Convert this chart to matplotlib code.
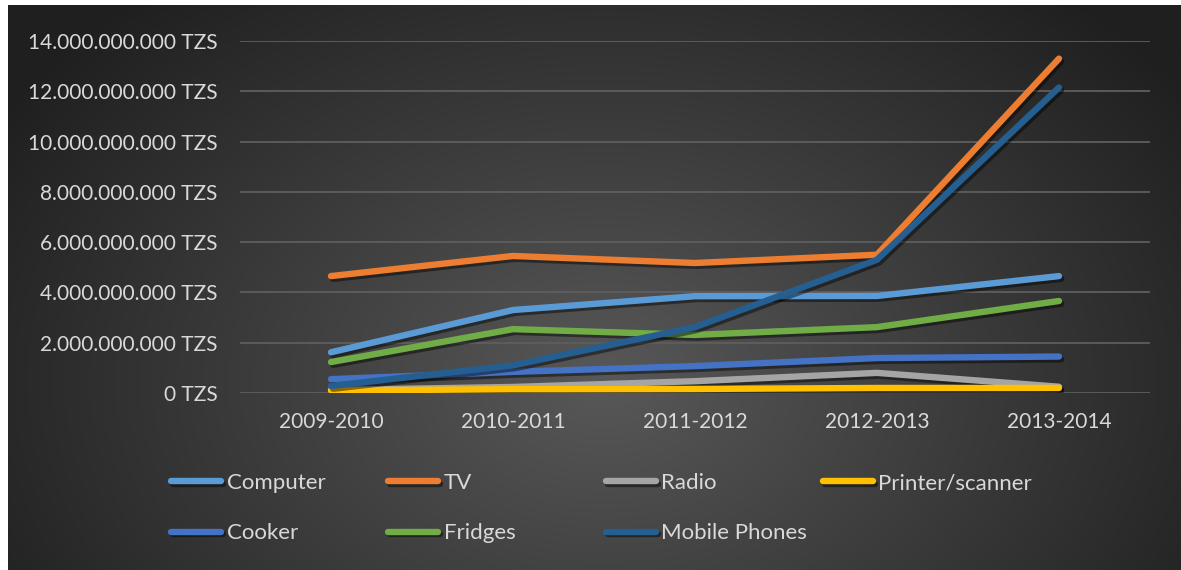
import numpy as np
import matplotlib
matplotlib.use("Agg")
import matplotlib.pyplot as plt
import matplotlib.patheffects as pe
from matplotlib.ticker import FuncFormatter

years = ["2009-2010", "2010-2011", "2011-2012", "2012-2013", "2013-2014"]

computer = [1.62e9, 3.30e9, 3.85e9, 3.86e9, 4.65e9]
tv = [4.65e9, 5.45e9, 5.17e9, 5.50e9, 13.30e9]
radio = [0.12e9, 0.24e9, 0.47e9, 0.80e9, 0.25e9]
printer = [0.10e9, 0.15e9, 0.16e9, 0.20e9, 0.20e9]
cooker = [0.55e9, 0.84e9, 1.07e9, 1.39e9, 1.45e9]
fridges = [1.23e9, 2.54e9, 2.31e9, 2.62e9, 3.66e9]
mobile = [0.28e9, 1.10e9, 2.62e9, 5.30e9, 12.15e9]

series = [
    ("Computer", computer, "#5B9BD5"),
    ("TV", tv, "#ED7D31"),
    ("Radio", radio, "#A5A5A5"),
    ("Printer/scanner", printer, "#FFC000"),
    ("Cooker", cooker, "#4472C4"),
    ("Fridges", fridges, "#70AD47"),
    ("Mobile Phones", mobile, "#255E91"),
]

plt.rcParams["font.family"] = ["Lato", "DejaVu Sans"]
txt = "#D9D9D9"

W, H = 1181, 570
fig = plt.figure(figsize=(W / 100, H / 100), dpi=100, facecolor="white")

# dark radial background
bg = fig.add_axes([8 / W, 0, 1 - 8 / W, 1 - 5 / H], zorder=-5)
yy, xx = np.mgrid[0:H, 0:W]
d = np.sqrt(((xx - 600) / 720.0) ** 2 + ((yy - 380) / 520.0) ** 2)
d = np.clip(d, 0, 1)
c0, c1 = 0x58 / 255, 0x1F / 255
shade = c0 + (c1 - c0) * d
bg.imshow(np.dstack([shade] * 3), aspect="auto", extent=[0, 1, 0, 1], origin="upper")
bg.axis("off")

ax = fig.add_axes([240 / W, (H - 393) / H, 910 / W, 352 / H])
ax.set_facecolor("none")
x = np.arange(len(years))

lines = {}
for name, vals, col in series:
    ln, = ax.plot(x, vals, color=col, lw=4.6, solid_capstyle="round",
                  solid_joinstyle="round", label=name,
                  path_effects=[pe.SimpleLineShadow(offset=(1.5, -2), shadow_color="black", alpha=0.45),
                                pe.Normal()])
    lines[name] = ln

ax.set_xlim(-0.5, len(years) - 0.5)
ax.set_ylim(0, 14e9)
ax.set_yticks(np.arange(0, 14.01e9, 2e9))
ax.yaxis.set_major_formatter(FuncFormatter(lambda v, p: f"{v:,.0f}".replace(",", ".") + " TZS"))
ax.set_xticks(x)
ax.set_xticklabels(years)
ax.tick_params(axis="both", length=0, colors=txt, labelsize=15)
ax.tick_params(axis="y", pad=16)
ax.tick_params(axis="x", pad=14)
ax.grid(axis="y", color="#5E5E5E", lw=1.3)
ax.set_axisbelow(True)
for s in ax.spines.values():
    s.set_visible(False)

# legend laid out in four evenly spaced columns
cols = [["Computer", "Cooker"], ["TV", "Fridges"], ["Radio", "Mobile Phones"], ["Printer/scanner"]]
for i, names in enumerate(cols):
    fig.legend([lines[n] for n in names], names, loc="upper left",
               bbox_to_anchor=((171 + 217.3 * i) / W, (H - 473) / H),
               frameon=False, fontsize=16, labelcolor=txt,
               handlelength=2.25, handletextpad=0.25, labelspacing=1.37,
               borderaxespad=0, borderpad=0)

fig.savefig("out.png", dpi=100, facecolor=fig.get_facecolor())
